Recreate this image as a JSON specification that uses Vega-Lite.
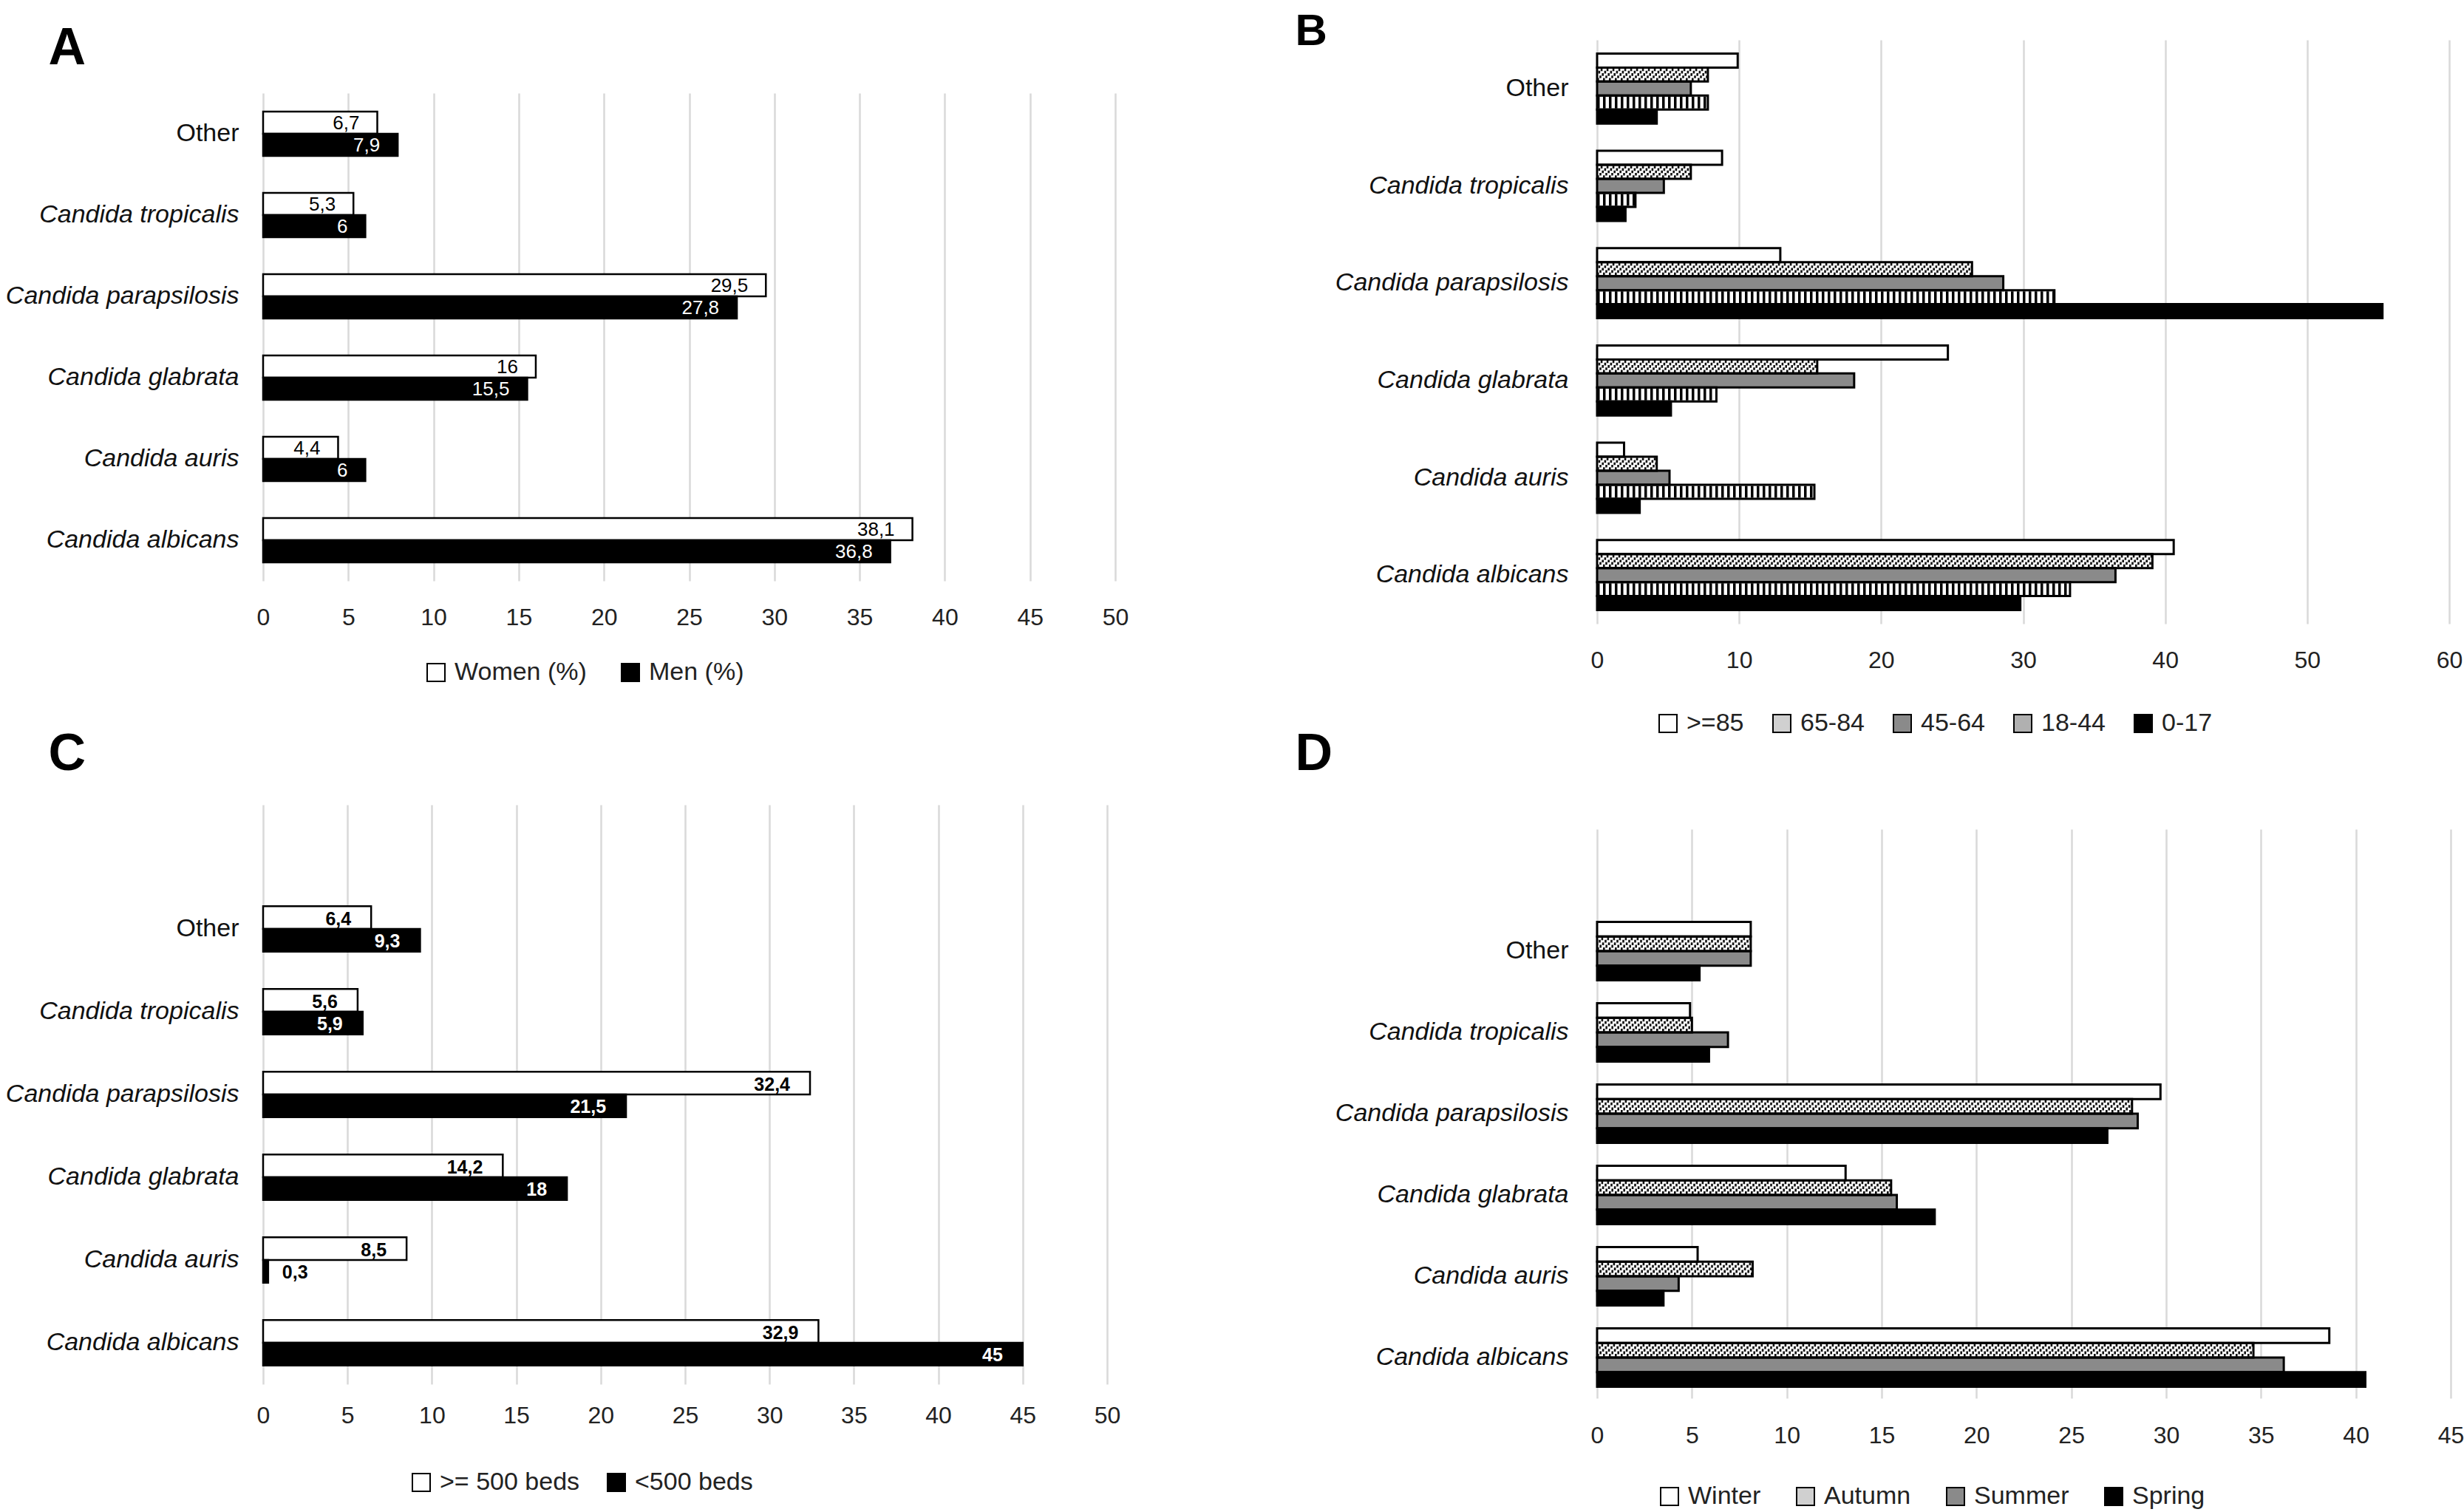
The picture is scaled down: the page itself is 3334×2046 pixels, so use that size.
{
  "$schema": "https://vega.github.io/schema/vega-lite/v6.json",
  "background": "white",
  "padding": {"left": 7, "top": 12, "right": 0, "bottom": 0},
  "config": {
    "view": {"stroke": null},
    "font": "Liberation Sans",
    "axisX": {"grid": true, "gridColor": "#d9d9d9", "gridWidth": 2.5, "domain": false, "ticks": false, "labelFontSize": 32, "labelColor": "#222", "labelFlush": false, "labelPadding": 34},
    "axisY": {"domain": false, "ticks": false, "grid": false, "labelFontSize": 34, "labelColor": "#111", "labelPadding": 33, "labelLimit": 1000,
              "titleAngle": 0, "titleAlign": "left", "titleBaseline": "top", "titleFontSize": 70, "titleFontWeight": "bold", "titleColor": "black", "titleFont": "Liberation Sans"},
    "legend": {"orient": "none", "direction": "horizontal", "symbolType": "square", "symbolSize": 576, "symbolStrokeColor": "black", "symbolStrokeWidth": 2, "labelFontSize": 34, "labelOffset": 8, "labelColor": "#222", "labelLimit": 1000}
  },
  "datasets": {
    "sex": [
      {"species": "Other", "group": "Women (%)", "value": 6.7, "label": "6,7"},
      {"species": "Other", "group": "Men (%)", "value": 7.9, "label": "7,9"},
      {"species": "Candida tropicalis", "group": "Women (%)", "value": 5.3, "label": "5,3"},
      {"species": "Candida tropicalis", "group": "Men (%)", "value": 6, "label": "6"},
      {"species": "Candida parapsilosis", "group": "Women (%)", "value": 29.5, "label": "29,5"},
      {"species": "Candida parapsilosis", "group": "Men (%)", "value": 27.8, "label": "27,8"},
      {"species": "Candida glabrata", "group": "Women (%)", "value": 16, "label": "16"},
      {"species": "Candida glabrata", "group": "Men (%)", "value": 15.5, "label": "15,5"},
      {"species": "Candida auris", "group": "Women (%)", "value": 4.4, "label": "4,4"},
      {"species": "Candida auris", "group": "Men (%)", "value": 6, "label": "6"},
      {"species": "Candida albicans", "group": "Women (%)", "value": 38.1, "label": "38,1"},
      {"species": "Candida albicans", "group": "Men (%)", "value": 36.8, "label": "36,8"}
    ],
    "age": [
      {"species": "Other", "group": ">=85", "value": 9.9},
      {"species": "Other", "group": "65-84", "value": 7.8},
      {"species": "Other", "group": "45-64", "value": 6.6},
      {"species": "Other", "group": "18-44", "value": 7.8},
      {"species": "Other", "group": "0-17", "value": 4.2},
      {"species": "Candida tropicalis", "group": ">=85", "value": 8.8},
      {"species": "Candida tropicalis", "group": "65-84", "value": 6.6},
      {"species": "Candida tropicalis", "group": "45-64", "value": 4.7},
      {"species": "Candida tropicalis", "group": "18-44", "value": 2.7},
      {"species": "Candida tropicalis", "group": "0-17", "value": 2.0},
      {"species": "Candida parapsilosis", "group": ">=85", "value": 12.9},
      {"species": "Candida parapsilosis", "group": "65-84", "value": 26.4},
      {"species": "Candida parapsilosis", "group": "45-64", "value": 28.6},
      {"species": "Candida parapsilosis", "group": "18-44", "value": 32.2},
      {"species": "Candida parapsilosis", "group": "0-17", "value": 55.3},
      {"species": "Candida glabrata", "group": ">=85", "value": 24.7},
      {"species": "Candida glabrata", "group": "65-84", "value": 15.5},
      {"species": "Candida glabrata", "group": "45-64", "value": 18.1},
      {"species": "Candida glabrata", "group": "18-44", "value": 8.4},
      {"species": "Candida glabrata", "group": "0-17", "value": 5.2},
      {"species": "Candida auris", "group": ">=85", "value": 1.9},
      {"species": "Candida auris", "group": "65-84", "value": 4.2},
      {"species": "Candida auris", "group": "45-64", "value": 5.1},
      {"species": "Candida auris", "group": "18-44", "value": 15.3},
      {"species": "Candida auris", "group": "0-17", "value": 3.0},
      {"species": "Candida albicans", "group": ">=85", "value": 40.6},
      {"species": "Candida albicans", "group": "65-84", "value": 39.1},
      {"species": "Candida albicans", "group": "45-64", "value": 36.5},
      {"species": "Candida albicans", "group": "18-44", "value": 33.3},
      {"species": "Candida albicans", "group": "0-17", "value": 29.8}
    ],
    "beds": [
      {"species": "Other", "group": ">= 500 beds", "value": 6.4, "label": "6,4"},
      {"species": "Other", "group": "<500 beds", "value": 9.3, "label": "9,3"},
      {"species": "Candida tropicalis", "group": ">= 500 beds", "value": 5.6, "label": "5,6"},
      {"species": "Candida tropicalis", "group": "<500 beds", "value": 5.9, "label": "5,9"},
      {"species": "Candida parapsilosis", "group": ">= 500 beds", "value": 32.4, "label": "32,4"},
      {"species": "Candida parapsilosis", "group": "<500 beds", "value": 21.5, "label": "21,5"},
      {"species": "Candida glabrata", "group": ">= 500 beds", "value": 14.2, "label": "14,2"},
      {"species": "Candida glabrata", "group": "<500 beds", "value": 18, "label": "18"},
      {"species": "Candida auris", "group": ">= 500 beds", "value": 8.5, "label": "8,5"},
      {"species": "Candida auris", "group": "<500 beds", "value": 0.3, "label": "0,3"},
      {"species": "Candida albicans", "group": ">= 500 beds", "value": 32.9, "label": "32,9"},
      {"species": "Candida albicans", "group": "<500 beds", "value": 45, "label": "45"}
    ],
    "season": [
      {"species": "Other", "group": "Winter", "value": 8.1},
      {"species": "Other", "group": "Autumn", "value": 8.1},
      {"species": "Other", "group": "Summer", "value": 8.1},
      {"species": "Other", "group": "Spring", "value": 5.4},
      {"species": "Candida tropicalis", "group": "Winter", "value": 4.9},
      {"species": "Candida tropicalis", "group": "Autumn", "value": 5.0},
      {"species": "Candida tropicalis", "group": "Summer", "value": 6.9},
      {"species": "Candida tropicalis", "group": "Spring", "value": 5.9},
      {"species": "Candida parapsilosis", "group": "Winter", "value": 29.7},
      {"species": "Candida parapsilosis", "group": "Autumn", "value": 28.2},
      {"species": "Candida parapsilosis", "group": "Summer", "value": 28.5},
      {"species": "Candida parapsilosis", "group": "Spring", "value": 26.9},
      {"species": "Candida glabrata", "group": "Winter", "value": 13.1},
      {"species": "Candida glabrata", "group": "Autumn", "value": 15.5},
      {"species": "Candida glabrata", "group": "Summer", "value": 15.8},
      {"species": "Candida glabrata", "group": "Spring", "value": 17.8},
      {"species": "Candida auris", "group": "Winter", "value": 5.3},
      {"species": "Candida auris", "group": "Autumn", "value": 8.2},
      {"species": "Candida auris", "group": "Summer", "value": 4.3},
      {"species": "Candida auris", "group": "Spring", "value": 3.5},
      {"species": "Candida albicans", "group": "Winter", "value": 38.6},
      {"species": "Candida albicans", "group": "Autumn", "value": 34.6},
      {"species": "Candida albicans", "group": "Summer", "value": 36.2},
      {"species": "Candida albicans", "group": "Spring", "value": 40.5}
    ]
  },
  "spacing": 225,
  "resolve": {"scale": {"fill": "independent", "yOffset": "independent", "color": "independent"}, "legend": {"fill": "independent"}},
  "hconcat": [
    {
      "spacing": 71,
      "bounds": "flush",
      "resolve": {"scale": {"fill": "independent", "yOffset": "independent", "color": "independent"}, "legend": {"fill": "independent"}},
      "vconcat": [
        {"width": 1, "height": 1, "data": {"values": []}, "mark": {"type": "point", "opacity": 0}},
        {
          "spacing": 303,
          "bounds": "flush",
          "resolve": {"scale": {"fill": "independent", "yOffset": "independent", "color": "independent"}, "legend": {"fill": "independent"}},
          "vconcat": [
            {
              "width": 1153, "height": 660,
              "data": {"name": "sex"},
              "encoding": {
                "y": {"field": "species", "type": "nominal",
                      "scale": {"domain": ["Other", "Candida tropicalis", "Candida parapsilosis", "Candida glabrata", "Candida auris", "Candida albicans"], "paddingInner": 0.455, "paddingOuter": 0.2275},
                      "axis": {"title": "A", "titleX": -291, "titleY": -95,
                               "labelFontStyle": {"condition": {"test": "datum.value === 'Other'", "value": "normal"}, "value": "italic"}}},
                "x": {"field": "value", "type": "quantitative", "title": null, "scale": {"domain": [0, 50], "nice": false},
                      "axis": {"values": [0, 5, 10, 15, 20, 25, 30, 35, 40, 45, 50], "labelPadding": 34}},
                "yOffset": {"field": "group", "type": "nominal", "scale": {"domain": ["Women (%)", "Men (%)"]}}
              },
              "layer": [
                {"mark": {"type": "bar", "stroke": "black", "strokeWidth": 2.5},
                 "encoding": {"fill": {"field": "group", "type": "nominal", "scale": {"domain": ["Women (%)", "Men (%)"], "range": ["white", "black"]},
                                       "legend": {"title": null, "legendX": 217, "legendY": 767, "columnPadding": 42}}}},
                {"mark": {"type": "text", "align": "right", "baseline": "middle", "dx": -24, "dy": 1, "fontSize": 26},
                 "encoding": {"text": {"field": "label", "type": "nominal"},
                              "color": {"condition": {"test": "datum.group === 'Men (%)'", "value": "white"}, "value": "black"}}}
              ]
            },
            {
              "width": 1142, "height": 784,
              "data": {"name": "beds"},
              "encoding": {
                "y": {"field": "species", "type": "nominal",
                      "scale": {"domain": [" ", "Other", "Candida tropicalis", "Candida parapsilosis", "Candida glabrata", "Candida auris", "Candida albicans"], "paddingInner": 0.45, "paddingOuter": 0.225},
                      "axis": {"title": "C", "titleX": -291, "titleY": -103,
                               "labelFontStyle": {"condition": {"test": "datum.value === 'Other'", "value": "normal"}, "value": "italic"}}},
                "x": {"field": "value", "type": "quantitative", "title": null, "scale": {"domain": [0, 50], "nice": false},
                      "axis": {"values": [0, 5, 10, 15, 20, 25, 30, 35, 40, 45, 50], "labelPadding": 27}},
                "yOffset": {"field": "group", "type": "nominal", "scale": {"domain": [">= 500 beds", "<500 beds"]}}
              },
              "layer": [
                {"mark": {"type": "bar", "stroke": "black", "strokeWidth": 2.5},
                 "encoding": {"fill": {"field": "group", "type": "nominal", "scale": {"domain": [">= 500 beds", "<500 beds"], "range": ["white", "black"]},
                                       "legend": {"title": null, "legendX": 197, "legendY": 900, "columnPadding": 32}}}},
                {"transform": [{"filter": "datum.value >= 2"}],
                 "mark": {"type": "text", "align": "right", "baseline": "middle", "dx": -27, "dy": 2, "fontSize": 25, "fontWeight": "bold"},
                 "encoding": {"text": {"field": "label", "type": "nominal"},
                              "color": {"condition": {"test": "datum.group === '<500 beds'", "value": "white"}, "value": "black"}}},
                {"transform": [{"filter": "datum.value < 2"}],
                 "mark": {"type": "text", "align": "left", "baseline": "middle", "dx": 19, "dy": 2, "fontSize": 25, "fontWeight": "bold", "color": "black"},
                 "encoding": {"text": {"field": "label", "type": "nominal"}}}
              ]
            }
          ]
        }
      ]
    },
    {
      "spacing": 278,
      "bounds": "flush",
      "resolve": {"scale": {"fill": "independent", "yOffset": "independent", "color": "independent"}, "legend": {"fill": "independent"}},
      "vconcat": [
        {
          "width": 1153, "height": 790,
          "data": {"name": "age"},
          "resolve": {"scale": {"yOffset": "independent"}},
          "encoding": {
            "y": {"field": "species", "type": "nominal",
                  "scale": {"domain": ["Other", "Candida tropicalis", "Candida parapsilosis", "Candida glabrata", "Candida auris", "Candida albicans"], "paddingInner": 0.28, "paddingOuter": 0.14},
                  "axis": {"title": "B", "titleFontSize": 60, "titleX": -409, "titleY": -41, "labelPadding": 39,
                           "labelFontStyle": {"condition": {"test": "datum.value === 'Other'", "value": "normal"}, "value": "italic"}}},
            "x": {"field": "value", "type": "quantitative", "title": null, "scale": {"domain": [0, 60], "nice": false},
                  "axis": {"values": [0, 10, 20, 30, 40, 50, 60], "labelPadding": 34}},
            "yOffset": {"field": "group", "type": "nominal", "scale": {"domain": [">=85", "65-84", "45-64", "18-44", "0-17"]}}
          },
          "layer": [
            {"mark": {"type": "bar"},
             "encoding": {"fill": {"field": "group", "type": "nominal", "scale": {"domain": [">=85", "65-84", "45-64", "18-44", "0-17"], "range": ["white", "#d0d0d0", "#8a8a8a", "#b0b0b0", "black"]},
                                   "legend": {"title": null, "legendX": 79, "legendY": 908, "columnPadding": 34}}}},
            {"transform": [{"filter": "datum.group === '65-84' || datum.group === '18-44'"}],
             "mark": {"type": "rule", "color": "white", "strokeWidth": 16},
             "encoding": {"x2": {"datum": 0}}},
            {"transform": [{"filter": "datum.group === '18-44'"}],
             "mark": {"type": "rule", "color": "black", "strokeWidth": 16, "strokeDash": [3.5, 4.5]},
             "encoding": {"x": {"datum": 0}, "x2": {"field": "value"}}},
            {"transform": [{"filter": "datum.group === '65-84'"}],
             "mark": {"type": "rule", "color": "#111", "strokeWidth": 3.6, "strokeDash": [2.6, 5.4], "strokeDashOffset": 3.2},
             "encoding": {"x": {"datum": 0}, "x2": {"field": "value"},
                          "yOffset": {"field": "group", "type": "nominal", "scale": {"domain": [">=85", "65-84", "45-64", "18-44", "0-17"], "range": [-6.4, 88.4]}}}},
            {"transform": [{"filter": "datum.group === '65-84'"}],
             "mark": {"type": "rule", "color": "#111", "strokeWidth": 3.6, "strokeDash": [2.6, 5.4], "strokeDashOffset": 6.4},
             "encoding": {"x": {"datum": 0}, "x2": {"field": "value"},
                          "yOffset": {"field": "group", "type": "nominal", "scale": {"domain": [">=85", "65-84", "45-64", "18-44", "0-17"], "range": [-3.2, 91.6]}}}},
            {"transform": [{"filter": "datum.group === '65-84'"}],
             "mark": {"type": "rule", "color": "#111", "strokeWidth": 3.6, "strokeDash": [2.6, 5.4], "strokeDashOffset": 1.6},
             "encoding": {"x": {"datum": 0}, "x2": {"field": "value"},
                          "yOffset": {"field": "group", "type": "nominal", "scale": {"domain": [">=85", "65-84", "45-64", "18-44", "0-17"], "range": [0, 94.8]}}}},
            {"transform": [{"filter": "datum.group === '65-84'"}],
             "mark": {"type": "rule", "color": "#111", "strokeWidth": 3.6, "strokeDash": [2.6, 5.4], "strokeDashOffset": 4.8},
             "encoding": {"x": {"datum": 0}, "x2": {"field": "value"},
                          "yOffset": {"field": "group", "type": "nominal", "scale": {"domain": [">=85", "65-84", "45-64", "18-44", "0-17"], "range": [3.2, 98.0]}}}},
            {"transform": [{"filter": "datum.group === '65-84'"}],
             "mark": {"type": "rule", "color": "#111", "strokeWidth": 3.6, "strokeDash": [2.6, 5.4], "strokeDashOffset": 0},
             "encoding": {"x": {"datum": 0}, "x2": {"field": "value"},
                          "yOffset": {"field": "group", "type": "nominal", "scale": {"domain": [">=85", "65-84", "45-64", "18-44", "0-17"], "range": [6.4, 101.2]}}}},
            {"mark": {"type": "bar", "fillOpacity": 0, "stroke": "black", "strokeWidth": 3}}
          ]
        },
        {
          "width": 1155, "height": 770,
          "data": {"name": "season"},
          "resolve": {"scale": {"yOffset": "independent"}},
          "encoding": {
            "y": {"field": "species", "type": "nominal",
                  "scale": {"domain": [" ", "Other", "Candida tropicalis", "Candida parapsilosis", "Candida glabrata", "Candida auris", "Candida albicans"], "paddingInner": 0.28, "paddingOuter": 0.14},
                  "axis": {"title": "D", "titleX": -409, "titleY": -136, "labelPadding": 39,
                           "labelFontStyle": {"condition": {"test": "datum.value === 'Other'", "value": "normal"}, "value": "italic"}}},
            "x": {"field": "value", "type": "quantitative", "title": null, "scale": {"domain": [0, 45], "nice": false},
                  "axis": {"values": [0, 5, 10, 15, 20, 25, 30, 35, 40, 45], "labelPadding": 35}},
            "yOffset": {"field": "group", "type": "nominal", "scale": {"domain": ["Winter", "Autumn", "Summer", "Spring"]}}
          },
          "layer": [
            {"mark": {"type": "bar"},
             "encoding": {"fill": {"field": "group", "type": "nominal", "scale": {"domain": ["Winter", "Autumn", "Summer", "Spring"], "range": ["white", "#d0d0d0", "#8a8a8a", "black"]},
                                   "legend": {"title": null, "legendX": 81, "legendY": 886, "columnPadding": 43}}}},
            {"transform": [{"filter": "datum.group === 'Autumn'"}],
             "mark": {"type": "rule", "color": "white", "strokeWidth": 17},
             "encoding": {"x2": {"datum": 0}}},
            {"transform": [{"filter": "datum.group === 'Autumn'"}],
             "mark": {"type": "rule", "color": "#111", "strokeWidth": 3.8, "strokeDash": [2.6, 5.4], "strokeDashOffset": 2.4},
             "encoding": {"x": {"datum": 0}, "x2": {"field": "value"},
                          "yOffset": {"field": "group", "type": "nominal", "scale": {"domain": ["Winter", "Autumn", "Summer", "Spring"], "range": [-6.8, 72.4]}}}},
            {"transform": [{"filter": "datum.group === 'Autumn'"}],
             "mark": {"type": "rule", "color": "#111", "strokeWidth": 3.8, "strokeDash": [2.6, 5.4], "strokeDashOffset": 5.8},
             "encoding": {"x": {"datum": 0}, "x2": {"field": "value"},
                          "yOffset": {"field": "group", "type": "nominal", "scale": {"domain": ["Winter", "Autumn", "Summer", "Spring"], "range": [-3.4, 75.8]}}}},
            {"transform": [{"filter": "datum.group === 'Autumn'"}],
             "mark": {"type": "rule", "color": "#111", "strokeWidth": 3.8, "strokeDash": [2.6, 5.4], "strokeDashOffset": 1.2},
             "encoding": {"x": {"datum": 0}, "x2": {"field": "value"},
                          "yOffset": {"field": "group", "type": "nominal", "scale": {"domain": ["Winter", "Autumn", "Summer", "Spring"], "range": [0, 79.2]}}}},
            {"transform": [{"filter": "datum.group === 'Autumn'"}],
             "mark": {"type": "rule", "color": "#111", "strokeWidth": 3.8, "strokeDash": [2.6, 5.4], "strokeDashOffset": 4.6},
             "encoding": {"x": {"datum": 0}, "x2": {"field": "value"},
                          "yOffset": {"field": "group", "type": "nominal", "scale": {"domain": ["Winter", "Autumn", "Summer", "Spring"], "range": [3.4, 82.6]}}}},
            {"transform": [{"filter": "datum.group === 'Autumn'"}],
             "mark": {"type": "rule", "color": "#111", "strokeWidth": 3.8, "strokeDash": [2.6, 5.4], "strokeDashOffset": 0},
             "encoding": {"x": {"datum": 0}, "x2": {"field": "value"},
                          "yOffset": {"field": "group", "type": "nominal", "scale": {"domain": ["Winter", "Autumn", "Summer", "Spring"], "range": [6.8, 86.0]}}}},
            {"mark": {"type": "bar", "fillOpacity": 0, "stroke": "black", "strokeWidth": 3}}
          ]
        }
      ]
    }
  ]
}
